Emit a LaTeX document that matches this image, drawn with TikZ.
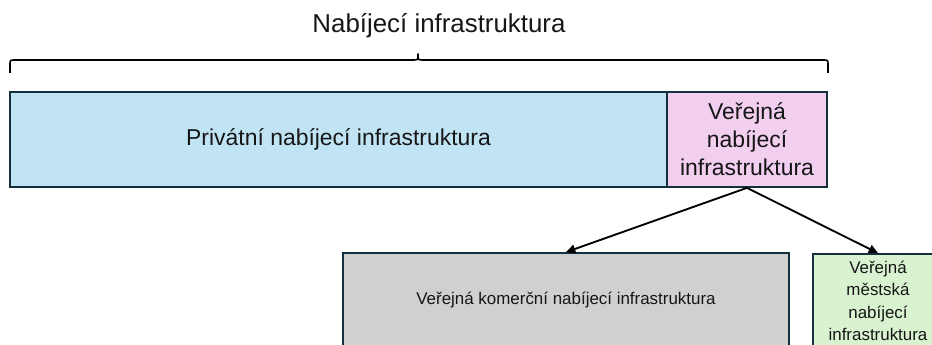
\documentclass[tikz,border=0pt]{standalone}
\usepackage{fontspec}
\setmainfont{Liberation Sans}
\usetikzlibrary{arrows.meta}

% 1 unit = 0.75pt, y grows downward
\def\u{0.75pt}
\definecolor{framecol}{HTML}{14303F}
\definecolor{textcol}{HTML}{161616}
\definecolor{privfill}{HTML}{C1E4F5}
\definecolor{pubfill}{HTML}{F2CEEF}
\definecolor{commfill}{HTML}{D0D0D0}
\definecolor{cityfill}{HTML}{D9F2D0}

\tikzset{
  block/.style={draw=framecol, line width=1.3pt, rectangle, inner sep=0pt,
    align=center, text=textcol},
  bigtext/.style={font=\fontsize{17.2}{21}\selectfont},
  smalltext/.style={font=\fontsize{12.7}{16.9}\selectfont},
  link/.style={line width=1.4pt, -{Triangle[length=7pt,width=6.5pt]}},
  bracket/.style={line width=1.2pt, line join=round}
}

\begin{document}
\begin{tikzpicture}[x=\u, y=-\u]
  \useasboundingbox (0,0) rectangle (932,345);
  \clip (0,0) rectangle (932,345);

  % heading and its brace
  \node[anchor=base, text=textcol, font=\fontsize{19.4}{23}\selectfont]
    (title) at (439,33) {Nabíjecí infrastruktura};
  \draw[bracket] (10,73) -- (10,65) .. controls (10,60) .. (15,60)
    -- (413,60) .. controls (418,60) .. (418,54)
    .. controls (418,60) .. (423,60)
    -- (823,60) .. controls (828,60) .. (828,65) -- (828,73);

  % top row
  \node[block, bigtext, fill=privfill, minimum width=657*\u, minimum height=95*\u]
    (priv) at (338.5,139.5) {Privátní nabíjecí infrastruktura};
  \node[block, bigtext, fill=pubfill, minimum width=160*\u, minimum height=95*\u]
    (pub) at (747,139.5) {Veřejná\\nabíjecí\\infrastruktura};

  % bottom row
  \node[block, smalltext, fill=commfill, minimum width=446*\u, minimum height=94*\u]
    (comm) at (566,300) {Veřejná komerční nabíjecí infrastruktura};
  \node[block, smalltext, fill=cityfill, minimum width=130*\u, minimum height=94*\u]
    (city) at (878,301) {Veřejná\\městská\\nabíjecí\\infrastruktura};

  % connectors
  \draw[link] (pub.south) -- (comm.north);
  \draw[link] (pub.south) -- (city.north);
\end{tikzpicture}
\end{document}
